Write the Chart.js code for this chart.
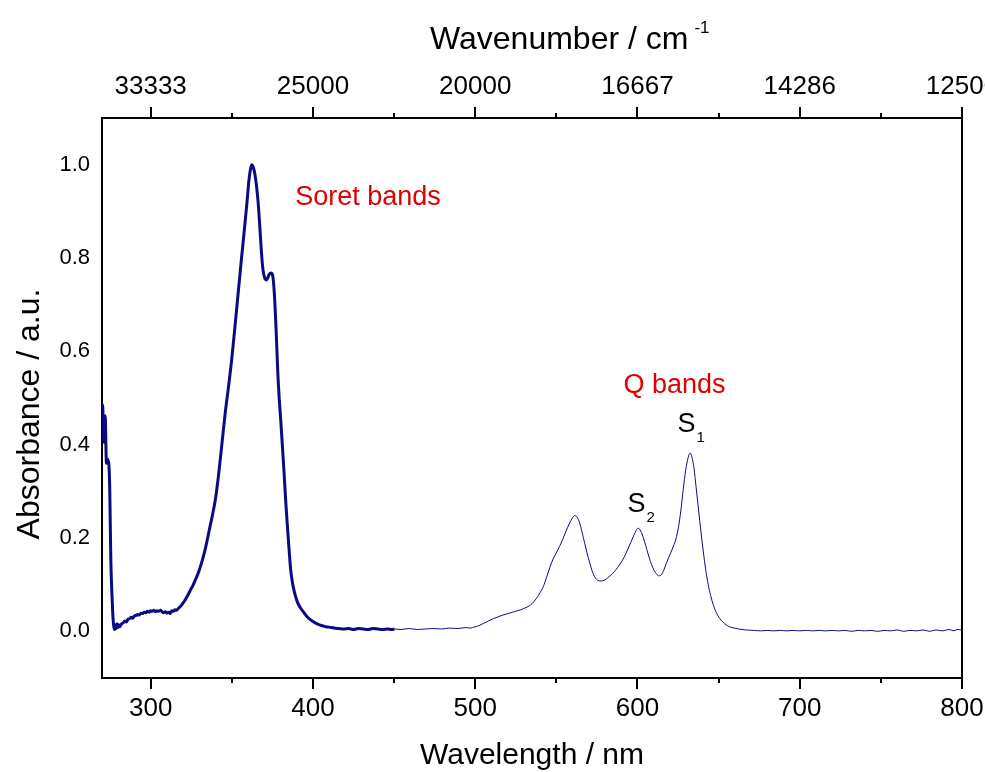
<!DOCTYPE html>
<html>
<head>
<meta charset="utf-8">
<script src="https://cdn.jsdelivr.net/npm/chart.js@4.4.1/dist/chart.umd.min.js"></script>
<style>
  html, body { margin: 0; padding: 0; background: #fff; }
  canvas { display: block; }
</style>
</head>
<body>
<canvas id="chart" width="985" height="772"></canvas>
<script>
// UV-vis absorption spectrum (wavelength in nm, absorbance in a.u.)
// thick trace: 270-450 nm, thin trace: 450-800 nm
const thickNm = [
  270.0, 270.4, 270.8, 271.2, 271.6, 272.0, 272.4, 272.7, 273.2, 273.8, 274.3, 274.8,
  275.4, 276.0, 276.6, 277.2, 277.8, 278.3, 278.8, 279.3, 279.8, 280.4, 281.0,
  282, 283, 284, 285, 286, 287, 288, 289, 290, 291, 292, 293, 294, 295, 296, 297,
  298, 299, 300, 301, 302, 303, 304, 305, 306, 307, 308, 309, 310, 311, 312, 313,
  314, 315, 316, 317, 318, 319, 320, 321, 322, 323, 324, 325, 326, 327, 328, 329,
  330, 332, 334, 336, 338, 340, 342, 344, 346, 348, 350, 352, 354, 356, 358,
  359.5, 360.5, 361.5, 362.3, 363.2, 364.2, 365.2, 366.2, 367.2, 368.2, 369.2,
  370.2, 371.2, 372.2, 373.2, 374.2, 375.2, 376.0, 376.8, 377.6, 378.4, 379.2,
  380.2, 381.2, 382.2, 383.2, 384.2, 385.2, 386.2, 387.2, 388.2, 389.2, 390.5,
  392, 394, 396, 398, 400, 402, 404, 406, 408, 410, 413, 416, 419, 422, 425, 428,
  431, 434, 437, 440, 443, 446, 448.5, 450.3
];
const thickAbs = [
  0.470, 0.485, 0.440, 0.405, 0.450, 0.462, 0.400, 0.360, 0.370, 0.365, 0.355, 0.300,
  0.160, 0.090, 0.040, 0.012, 0.004, 0.014, 0.006, 0.016, 0.008, 0.014, 0.010,
  0.016, 0.018, 0.022, 0.020, 0.026, 0.027, 0.030, 0.028, 0.033, 0.034, 0.036, 0.035, 0.039, 0.038, 0.041, 0.040,
  0.043, 0.041, 0.044, 0.043, 0.045, 0.042, 0.044, 0.043, 0.045, 0.042, 0.040, 0.042, 0.039, 0.041, 0.038, 0.044,
  0.043, 0.046, 0.045, 0.049, 0.052, 0.056, 0.061, 0.066, 0.072, 0.078, 0.085, 0.092, 0.098, 0.106, 0.114, 0.122,
  0.132, 0.154, 0.182, 0.215, 0.248, 0.285, 0.340, 0.405, 0.470, 0.525, 0.585, 0.655, 0.728, 0.800, 0.870,
  0.925, 0.965, 0.990, 1.000, 0.995, 0.980, 0.955, 0.920, 0.870, 0.815, 0.775,
  0.758, 0.753, 0.758, 0.766, 0.768, 0.762, 0.735, 0.685, 0.620, 0.550, 0.500,
  0.450, 0.396, 0.340, 0.280, 0.228, 0.180, 0.135, 0.108, 0.090, 0.076, 0.062,
  0.052, 0.042, 0.033, 0.026, 0.021, 0.017, 0.014, 0.012, 0.010, 0.009, 0.007, 0.006, 0.005, 0.006, 0.004, 0.006,
  0.005, 0.004, 0.006, 0.005, 0.004, 0.005, 0.004, 0.005
];
const thinNm = [
  450.3, 454.3, 459.3, 464.3, 469.3, 474.3, 479.2, 484.2, 489.2, 494.2, 497.2, 499.2,
  502.1, 505.1, 508.1, 511.1, 514.1, 517.1, 520.1, 523.0, 526.0, 528.0, 530.0, 532.0,
  534.0, 536.0, 538.0, 540.0, 542.0, 544.0, 546.0, 548.0, 550.0, 552.0, 553.9, 555.9,
  557.9, 559.9, 561.4, 562.9, 564.4, 565.9, 567.4, 568.9, 570.4, 571.9, 573.4, 574.9,
  576.4, 577.9, 579.8, 581.8, 583.8, 585.8, 587.8, 589.8, 591.8, 593.8, 595.8, 597.8,
  599.3, 600.3, 601.3, 602.8, 604.3, 605.8, 607.3, 608.7, 610.2, 611.7, 613.2, 614.7,
  616.2, 617.7, 619.2, 620.7, 622.2, 623.7, 625.2, 626.7, 628.2, 629.7, 631.2, 632.5,
  633.6, 634.9, 636.1, 637.6, 639.1, 640.6, 642.1, 643.6, 645.1, 646.6, 648.6, 650.6,
  652.6, 654.6, 656.6, 659.6, 662.5, 666.5,
  672, 676, 680, 684, 688, 692, 696, 700, 704, 708, 712, 716, 720, 724, 728, 732,
  736, 740, 744, 748, 752, 756, 760, 764, 768, 772, 776, 780, 784, 788, 792, 795,
  797, 800
];
const thinAbs = [
  0.005, 0.004, 0.006, 0.004, 0.005, 0.006, 0.005, 0.007, 0.006, 0.008, 0.007, 0.009,
  0.012, 0.017, 0.022, 0.027, 0.031, 0.035, 0.038, 0.041, 0.044, 0.046, 0.049, 0.052,
  0.056, 0.063, 0.072, 0.083, 0.096, 0.116, 0.137, 0.155, 0.168, 0.182, 0.197, 0.214,
  0.230, 0.243, 0.248, 0.244, 0.232, 0.212, 0.190, 0.168, 0.149, 0.131, 0.118, 0.111,
  0.108, 0.108, 0.110, 0.115, 0.121, 0.128, 0.137, 0.147, 0.159, 0.174, 0.190, 0.206,
  0.217, 0.221, 0.219, 0.209, 0.193, 0.175, 0.157, 0.143, 0.131, 0.123, 0.119, 0.121,
  0.131, 0.145, 0.158, 0.170, 0.183, 0.198, 0.222, 0.258, 0.304, 0.345, 0.372, 0.382,
  0.373, 0.348, 0.310, 0.262, 0.214, 0.170, 0.131, 0.100, 0.077, 0.058, 0.040, 0.028,
  0.020, 0.014, 0.010, 0.007, 0.005, 0.003,
  0.002, 0.001, 0.002, 0.001, 0.002, 0.001, 0.002, 0.001, 0.002, 0.001, 0.002, 0.001, 0.002, 0.001, 0.002, 0.000,
  0.002, 0.001, 0.002, 0.000, 0.002, 0.001, 0.003, 0.000, 0.002, 0.001, 0.003, 0.000, 0.003, 0.001, 0.004, 0.001,
  0.004, 0.003
];

// axis ticks
const xMajor = [300, 400, 500, 600, 700, 800];
const xMinor = [350, 450, 550, 650, 750];
const wavenumberLabels = ['33333', '25000', '20000', '16667', '14286', '12500'];
const yTicks = [0, 0.2, 0.4, 0.6, 0.8, 1.0];

// text placed in data coordinates
const notes = [
  { text: 'Soret bands', sub: '', nm: 389.1, abs: 0.913, color: '#e10000' },
  { text: 'Q bands', sub: '', nm: 591.4, abs: 0.511, color: '#e10000' },
  { text: 'S', sub: '1', nm: 624.7, abs: 0.427, color: '#000' },
  { text: 'S', sub: '2', nm: 593.8, abs: 0.256, color: '#000' }
];

const FONT = "'Liberation Sans', Arial, sans-serif";
const LINE = '#0a0a84';

function toPoints(xs, ys) {
  return xs.map((x, i) => ({ x: x, y: ys[i] }));
}

// let the last top label run off the canvas edge instead of shrinking the plot
function fixWidth(s) {
  s.paddingLeft = 0;
  s.paddingRight = 0;
}

// minor ticks, axis titles drawn by hand, band labels
const extras = {
  id: 'extras',
  afterDraw(chart) {
    const ctx = chart.ctx;
    const xs = chart.scales.x;
    const ys = chart.scales.y;
    const area = chart.chartArea;
    ctx.save();
    ctx.strokeStyle = '#000';
    ctx.lineWidth = 2;
    xMinor.forEach(v => {
      const px = Math.round(xs.getPixelForValue(v));
      ctx.beginPath();
      ctx.moveTo(px, area.bottom);
      ctx.lineTo(px, area.bottom + 5);
      ctx.moveTo(px, area.top);
      ctx.lineTo(px, area.top - 5);
      ctx.stroke();
    });

    ctx.fillStyle = '#000';
    ctx.textBaseline = 'alphabetic';
    ctx.textAlign = 'left';

    // top: Wavenumber / cm^-1
    ctx.font = '32px ' + FONT;
    const t = 'Wavenumber / cm';
    ctx.fillText(t, 430, 49);
    const tw = ctx.measureText(t).width;
    ctx.font = '17px ' + FONT;
    ctx.fillText('-1', 430 + tw + 6, 33);

    // left: Absorbance / a.u.
    ctx.save();
    ctx.translate(39, 414);
    ctx.rotate(-Math.PI / 2);
    ctx.font = '32px ' + FONT;
    ctx.textAlign = 'center';
    ctx.fillText('Absorbance / a.u.', 0, 0);
    ctx.restore();

    notes.forEach(n => {
      const px = xs.getPixelForValue(n.nm);
      const py = ys.getPixelForValue(n.abs);
      ctx.fillStyle = n.color;
      ctx.font = '27px ' + FONT;
      ctx.fillText(n.text, px, py);
      if (n.sub) {
        const w = ctx.measureText(n.text).width;
        ctx.font = '15px ' + FONT;
        ctx.fillText(n.sub, px + w + 1, py + 10);
      }
    });
    ctx.restore();
  }
};

const ctx = document.getElementById('chart').getContext('2d');
const myChart = new Chart(ctx, {
  type: 'line',
  data: {
    datasets: [{
      data: toPoints(thickNm, thickAbs),
      borderColor: LINE,
      borderWidth: 3,
      pointRadius: 0,
      cubicInterpolationMode: 'monotone'
    }, {
      data: toPoints(thinNm, thinAbs),
      borderColor: LINE,
      borderWidth: 1,
      pointRadius: 0,
      cubicInterpolationMode: 'monotone'
    }]
  },
  options: {
    responsive: false,
    animation: false,
    devicePixelRatio: 1,
    layout: { padding: { left: 0, right: 23, top: 0, bottom: 0 } },
    plugins: {
      legend: { display: false },
      tooltip: { enabled: false }
    },
    scales: {
      x: {
        type: 'linear',
        position: 'bottom',
        min: 270,
        max: 800,
        afterBuildTicks: s => { s.ticks = xMajor.map(v => ({ value: v })); },
        afterFit: s => { s.height = 94; fixWidth(s); },
        ticks: {
          autoSkip: false,
          maxRotation: 0,
          padding: 4,
          color: '#000',
          font: { family: FONT, size: 26 },
          callback: v => String(v)
        },
        grid: { drawOnChartArea: false, drawTicks: true, tickLength: 11, color: '#000', lineWidth: 2 },
        border: { color: '#000', width: 2 },
        title: {
          display: true,
          text: 'Wavelength / nm',
          color: '#000',
          font: { family: FONT, size: 30, lineHeight: 1 },
          padding: { top: 0, bottom: 1 }
        }
      },
      x2: {
        type: 'linear',
        position: 'top',
        min: 270,
        max: 800,
        afterBuildTicks: s => { s.ticks = xMajor.map(v => ({ value: v })); },
        afterFit: s => { s.height = 118; fixWidth(s); },
        ticks: {
          autoSkip: false,
          maxRotation: 0,
          padding: 5,
          color: '#000',
          font: { family: FONT, size: 26 },
          callback: (v, i) => wavenumberLabels[i]
        },
        grid: { drawOnChartArea: false, drawTicks: true, tickLength: 11, color: '#000', lineWidth: 2 },
        border: { color: '#000', width: 2 }
      },
      y: {
        type: 'linear',
        position: 'left',
        min: -0.1,
        max: 1.1,
        afterBuildTicks: s => { s.ticks = yTicks.map(v => ({ value: v })); },
        afterFit: s => { s.width = 102; },
        ticks: {
          padding: 12,
          color: '#000',
          font: { family: FONT, size: 22 },
          callback: v => v.toFixed(1)
        },
        grid: { drawOnChartArea: false, drawTicks: false },
        border: { color: '#000', width: 2 }
      },
      y2: {
        type: 'linear',
        position: 'right',
        min: -0.1,
        max: 1.1,
        afterFit: s => { s.width = 0; },
        ticks: { display: false },
        grid: { display: false },
        border: { color: '#000', width: 2 }
      }
    }
  },
  plugins: [extras]
});
</script>
</body>
</html>
